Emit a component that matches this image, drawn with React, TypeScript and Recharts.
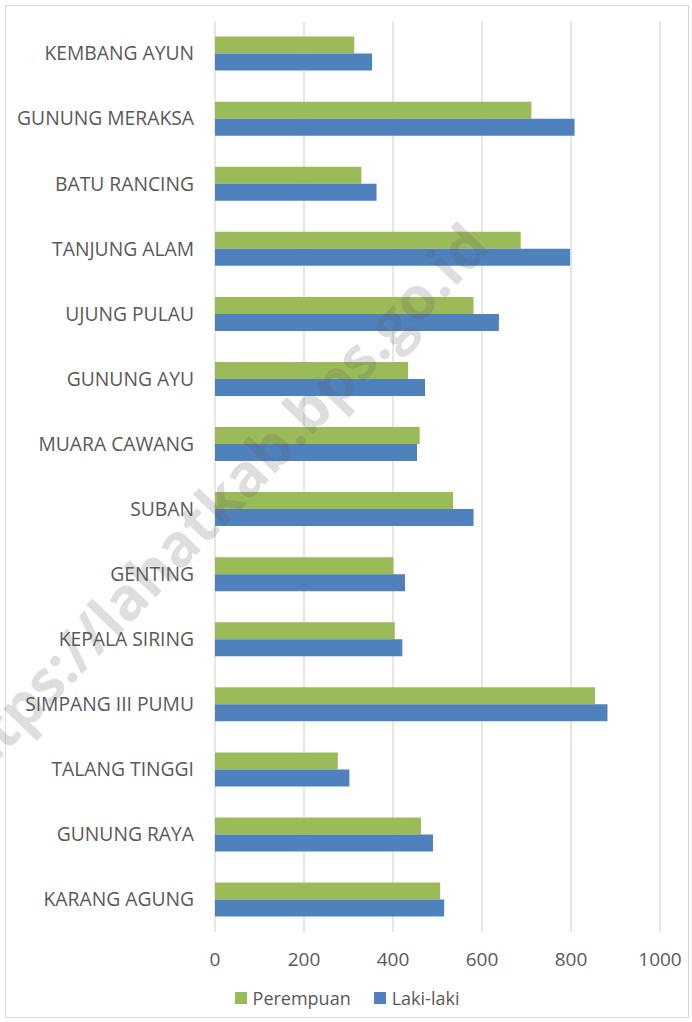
import { FC } from 'react';
import { Bar, BarChart, CartesianGrid, Legend, XAxis, YAxis } from 'recharts';

const categories = [
  'KEMBANG AYUN',
  'GUNUNG MERAKSA',
  'BATU RANCING',
  'TANJUNG ALAM',
  'UJUNG PULAU',
  'GUNUNG AYU',
  'MUARA CAWANG',
  'SUBAN',
  'GENTING',
  'KEPALA SIRING',
  'SIMPANG III PUMU',
  'TALANG TINGGI',
  'GUNUNG RAYA',
  'KARANG AGUNG',
];

const perempuan = [313, 711, 329, 687, 581, 434, 460, 535, 401, 404, 854, 276, 463, 506];
const lakiLaki = [353, 808, 363, 798, 638, 472, 454, 581, 427, 421, 882, 302, 490, 515];

const xTicks = [0, 200, 400, 600, 800, 1000];

const FONT = '"Open Sans", sans-serif';
const TEXT = '#595959';
const GREEN = '#9BBB59';
const BLUE = '#4F81BD';

const data = categories.map((name, i) => ({
  name,
  perempuan: perempuan[i],
  laki: lakiLaki[i],
}));

const LegendContent: FC = () => (
  <div
    style={{
      display: 'flex',
      justifyContent: 'center',
      alignItems: 'center',
      fontFamily: FONT,
      fontSize: 18,
      color: TEXT,
      width: 692,
      marginLeft: 1,
    }}
  >
    <span style={{ width: 12, height: 12, background: GREEN, marginRight: 6 }} />
    <span style={{ marginRight: 23 }}>Perempuan</span>
    <span style={{ width: 12, height: 12, background: BLUE, marginRight: 6 }} />
    <span>Laki-laki</span>
  </div>
);

const App: FC = () => {
  return (
    <div style={{ position: 'absolute', left: 0, top: 0, width: 692, height: 1022, background: '#fff', overflow: 'hidden' }}>
      <div
        style={{
          position: 'absolute',
          left: 5,
          top: 5,
          width: 684,
          height: 1013,
          border: '1px solid #d9d9d9',
          boxSizing: 'border-box',
        }}
      />
      <BarChart
        width={692}
        height={1022}
        data={data}
        layout="vertical"
        margin={{ top: 21, right: 32, bottom: 12, left: 0 }}
        barCategoryGap="24%"
        barGap={0}
      >
        <CartesianGrid horizontal={false} stroke="#d9d9d9" strokeWidth={1.3} />
        <XAxis
          type="number"
          domain={[0, 1000]}
          ticks={xTicks}
          axisLine={false}
          tickLine={false}
          tickSize={0}
          tickMargin={21}
          height={54}
          tick={{ fill: TEXT, fontSize: 19, fontFamily: FONT }}
        />
        <YAxis
          type="category"
          dataKey="name"
          width={215}
          axisLine={false}
          tickLine={false}
          tickSize={0}
          tickMargin={21}
          interval={0}
          tick={{ fill: TEXT, fontSize: 19.3, fontFamily: FONT }}
        />
        <Legend verticalAlign="bottom" height={24} content={<LegendContent />} wrapperStyle={{ left: 0, width: 692 }} />
        <Bar dataKey="perempuan" name="Perempuan" fill={GREEN} isAnimationActive={false} />
        <Bar dataKey="laki" name="Laki-laki" fill={BLUE} isAnimationActive={false} />
      </BarChart>
      <div
        style={{
          position: 'absolute',
          left: 210,
          top: 508,
          transform: 'translate(-50%, -50%) rotate(-46deg)',
          fontFamily: FONT,
          fontWeight: 700,
          fontSize: 59,
          color: 'rgba(90, 90, 90, 0.2)',
          whiteSpace: 'nowrap',
          pointerEvents: 'none',
        }}
      >
        https://lahatkab.bps.go.id
      </div>
    </div>
  );
};

export default App;
